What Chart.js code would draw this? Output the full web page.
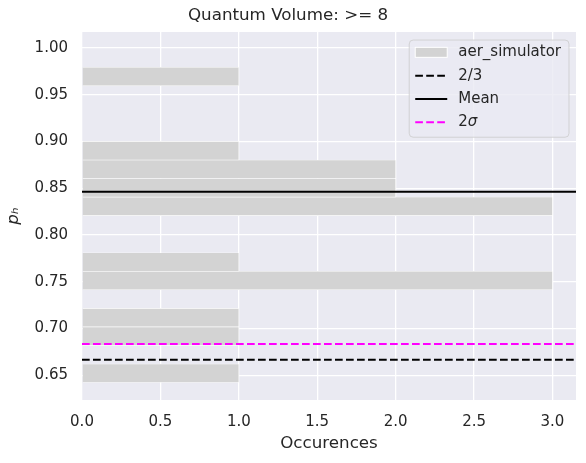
<!DOCTYPE html>
<html>
<head>
<meta charset="utf-8">
<script src="https://cdn.jsdelivr.net/npm/chart.js@4"></script>
<style>
  html, body { margin: 0; padding: 0; background: #ffffff; }
  #wrap { width: 586px; height: 463px; }
</style>
</head>
<body>
<div id="wrap"><canvas id="chart" width="586" height="463"></canvas></div>
<script>
// histogram bins (centre of each p_h bin) and number of occurences
const binCenters = [0.6521, 0.6719, 0.6918, 0.7116, 0.7314, 0.7513, 0.7711, 0.7909, 0.8108,
                    0.8306, 0.8504, 0.8703, 0.8901, 0.9099, 0.9298, 0.9496, 0.9694];
const binCounts = [1, 0, 1, 1, 0, 3, 1, 0, 0, 3, 2, 2, 1, 0, 0, 0, 1];

// reference lines
const lineLabels = ['2/3', 'Mean', '2\u03c3'];
const lineValues = [2 / 3, 0.8462, 0.6833];
const lineColors = ['#000000', '#000000', '#ff00ff'];
const lineDashed = [true, false, true];

// axis ranges and tick values
const xRange = [0, 3.15];
const yRange = [0.6235, 1.017];
const xTicks = [0, 0.5, 1.0, 1.5, 2.0, 2.5, 3.0];
const yTicks = [0.65, 0.70, 0.75, 0.80, 0.85, 0.90, 0.95, 1.00];

const TEXT = '#262626';
const FONT = 'DejaVu Sans';

const barData = binCenters.map((c, i) => ({ x: binCounts[i], y: c }));

const lineSets = lineLabels.map((lab, i) => ({
    type: 'line',
    label: lab,
    order: 0,
    data: [{ x: xRange[0], y: lineValues[i] }, { x: xRange[1], y: lineValues[i] }],
    borderColor: lineColors[i],
    backgroundColor: lineColors[i],
    borderWidth: 2,
    borderDash: lineDashed[i] ? [7.7, 3.3] : [],
    pointRadius: 0,
    tension: 0
}));

// seaborn-like plot background
const plotBg = {
    id: 'plotBg',
    beforeDraw(chart) {
        const { ctx, chartArea: a } = chart;
        ctx.save();
        ctx.fillStyle = '#eaeaf2';
        ctx.fillRect(a.left, a.top, a.right - a.left, a.bottom - a.top);
        ctx.restore();
    }
};

// legend drawn inside the axes, upper right, stacked like matplotlib
const boxLegend = {
    id: 'boxLegend',
    afterDraw(chart) {
        const { ctx, chartArea: a } = chart;
        const fs = 15;
        const rowH = 23.3;
        const handleW = 32;
        const gap = 11;
        const pad = 6;
        ctx.save();
        ctx.font = fs + 'px "' + FONT + '"';
        const labels = ['aer_simulator'].concat(lineLabels);
        let maxW = 0;
        labels.forEach(t => { maxW = Math.max(maxW, ctx.measureText(t).width); });
        const w = pad + handleW + gap + maxW + 8;
        const h = rowH * labels.length + 4;
        const right = a.right - 7;
        const left = right - w;
        const top = a.top + 8;

        ctx.beginPath();
        ctx.roundRect(left, top, w, h, 4);
        ctx.fillStyle = 'rgba(234,234,242,0.8)';
        ctx.fill();
        ctx.strokeStyle = 'rgba(204,204,204,0.8)';
        ctx.lineWidth = 1;
        ctx.stroke();

        const hx = left + pad;
        const tx = hx + handleW + gap;
        ctx.textBaseline = 'middle';
        ctx.textAlign = 'left';
        labels.forEach((t, i) => {
            const cy = top + 12.3 + i * rowH;
            if (i === 0) {
                ctx.fillStyle = '#d3d3d3';
                ctx.fillRect(hx, cy - 5, handleW, 10);
                ctx.strokeStyle = '#ffffff';
                ctx.lineWidth = 1;
                ctx.strokeRect(hx, cy - 5, handleW, 10);
            } else {
                const k = i - 1;
                ctx.beginPath();
                ctx.setLineDash(lineDashed[k] ? [7.7, 3.3] : []);
                ctx.strokeStyle = lineColors[k];
                ctx.lineWidth = 2;
                ctx.moveTo(hx, cy);
                ctx.lineTo(hx + handleW, cy);
                ctx.stroke();
                ctx.setLineDash([]);
            }
            ctx.fillStyle = TEXT;
            if (t === '2\u03c3') {
                ctx.font = fs + 'px "' + FONT + '"';
                ctx.fillText('2', tx, cy);
                const w2 = ctx.measureText('2').width;
                ctx.font = 'italic ' + fs + 'px "' + FONT + '"';
                ctx.fillText('\u03c3', tx + w2, cy);
                ctx.font = fs + 'px "' + FONT + '"';
            } else {
                ctx.fillText(t, tx, cy);
            }
        });
        ctx.restore();
    }
};

new Chart(document.getElementById('chart').getContext('2d'), {
    type: 'bar',
    data: {
        datasets: [{
            label: 'aer_simulator',
            order: 1,
            data: barData,
            backgroundColor: '#d3d3d3',
            borderColor: '#ffffff',
            borderWidth: 0.6,
            borderSkipped: 'start',
            barPercentage: 1,
            categoryPercentage: 1
        }].concat(lineSets)
    },
    options: {
        indexAxis: 'y',
        responsive: false,
        animation: false,
        layout: { padding: { left: 0, right: 10, top: 0, bottom: 0 } },
        plugins: {
            legend: { display: false },
            tooltip: { enabled: false },
            title: {
                display: true,
                text: 'Quantum Volume: >= 8',
                color: TEXT,
                font: { family: FONT, size: 16.7, weight: 'normal' },
                padding: { top: 6, bottom: 6 }
            }
        },
        scales: {
            x: {
                type: 'linear',
                min: xRange[0],
                max: xRange[1],
                bounds: 'data',
                border: { display: false },
                grid: { color: '#ffffff', lineWidth: 1.3, drawTicks: false },
                afterBuildTicks: s => { s.ticks = xTicks.map(v => ({ value: v })); },
                ticks: {
                    padding: 13,
                    color: TEXT,
                    font: { family: FONT, size: 15 },
                    callback: v => Number(v).toFixed(1)
                },
                title: {
                    display: true,
                    text: 'Occurences',
                    color: TEXT,
                    font: { family: FONT, size: 16.7 },
                    padding: { top: 0, bottom: 9 }
                },
                afterFit: s => { s.height = 63; }
            },
            y: {
                type: 'linear',
                min: yRange[0],
                max: yRange[1],
                bounds: 'data',
                offset: false,
                border: { display: false },
                grid: { color: '#ffffff', lineWidth: 1.3, drawTicks: false, offset: false },
                afterBuildTicks: s => { s.ticks = yTicks.map(v => ({ value: v })); },
                ticks: {
                    padding: 14,
                    color: TEXT,
                    font: { family: FONT, size: 15 },
                    callback: v => Number(v).toFixed(2)
                },
                title: {
                    display: true,
                    text: 'p\u2095',
                    color: TEXT,
                    font: { family: FONT, size: 16.7, style: 'italic' },
                    padding: { top: 4, bottom: 0 }
                },
                afterFit: s => { s.width = 82; }
            }
        }
    },
    plugins: [plotBg, boxLegend]
});
</script>
</body>
</html>
